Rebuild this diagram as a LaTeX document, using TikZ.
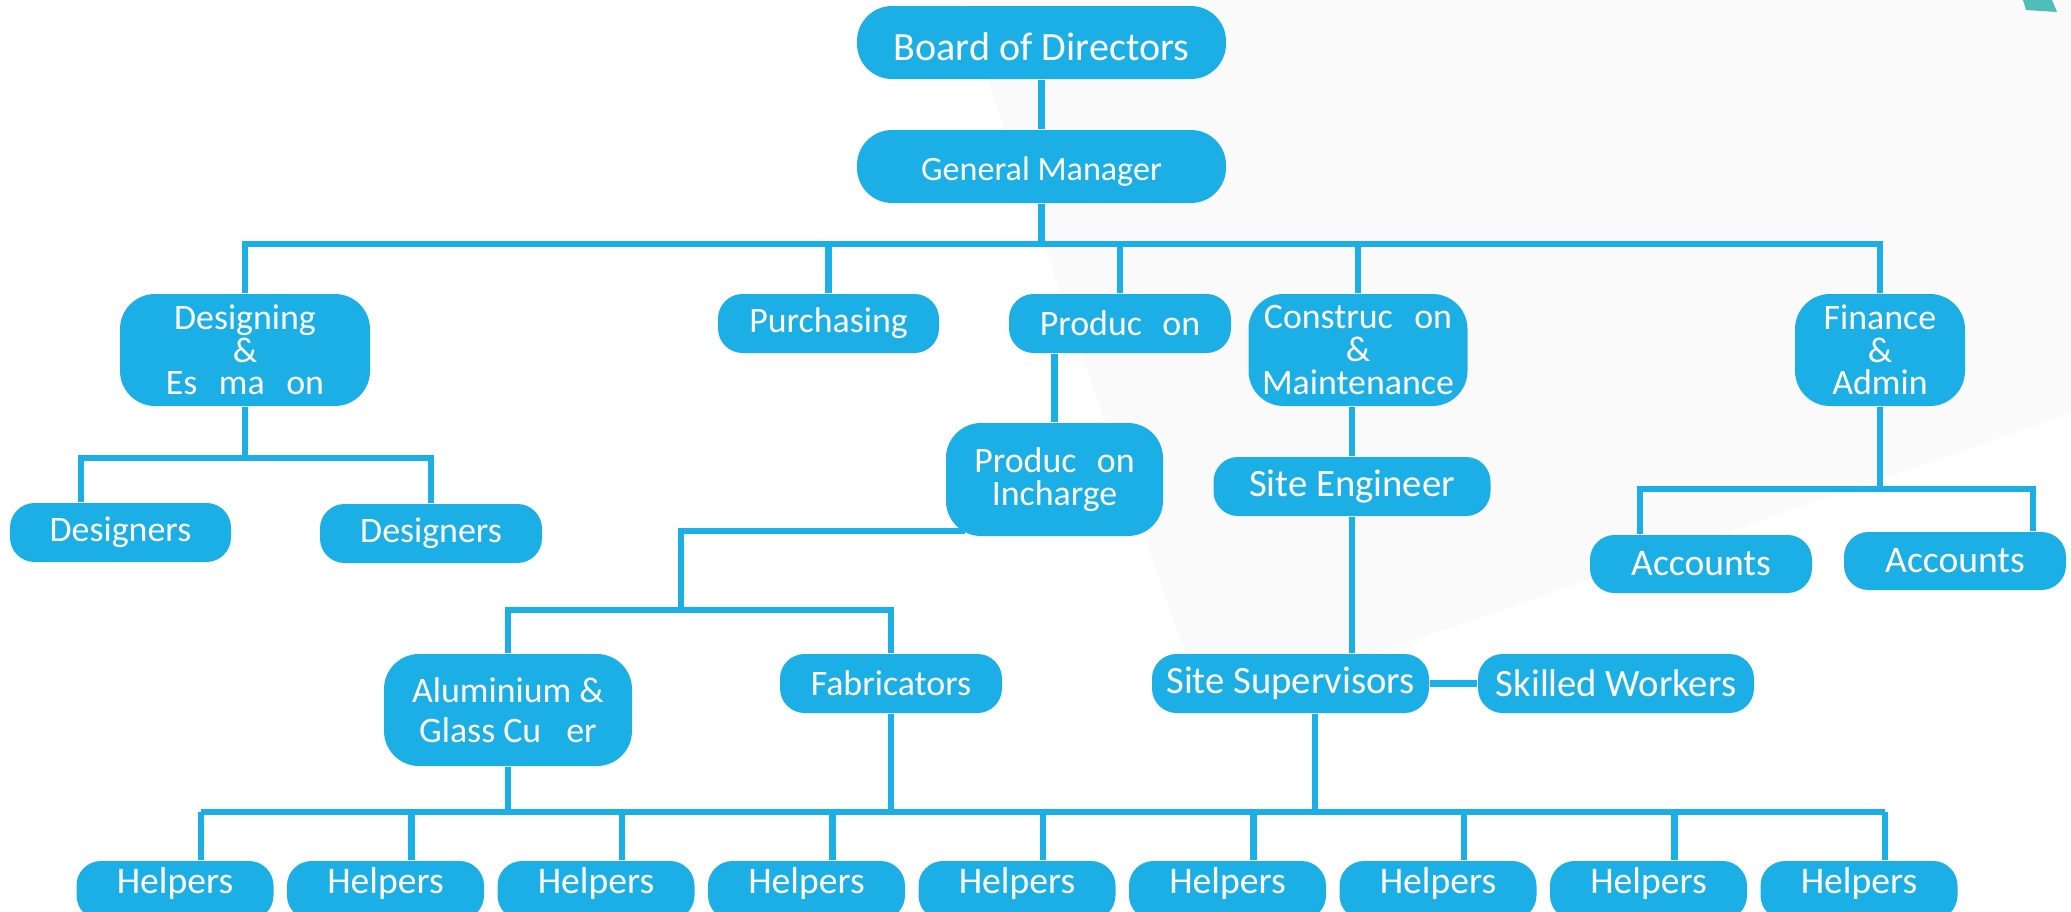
\documentclass[tikz,border=0pt]{standalone}
\usepackage{fontspec}
\setmainfont{Carlito}
\definecolor{cblue}{HTML}{1BAFE5}
\definecolor{palegray}{HTML}{FAFAFA}
\definecolor{tealbit}{HTML}{4DBEB8}
\begin{document}
\begin{tikzpicture}[
  dept/.style={fill=cblue, text=white, rounded corners=7pt, inner sep=0pt, align=center,
    minimum width=2.22cm, minimum height=0.59cm, font=\fontsize{10.2}{9.3}\selectfont},
  tall/.style={dept, minimum height=1.12cm, rounded corners=10pt},
  helper/.style={dept, minimum width=1.97cm, text depth=0.2cm, font=\fontsize{10.7}{12}\selectfont},
  conn/.style={draw=cblue, line width=1.8pt}]
\useasboundingbox (0,0) rectangle (20.71,-9.12);
\fill[white] (0,0) rectangle (20.71,-9.12);
\fill[palegray] (9.60,0) -- (20.71,0) -- (20.71,-4.13) -- (12.05,-7.12) -- cycle;
\fill[tealbit] (20.23,0) -- (20.52,0) -- (20.57,-0.12) -- (20.26,-0.10) -- cycle;
% top levels
\node[dept, minimum width=3.69cm, minimum height=0.73cm, rounded corners=10pt, text height=0.36cm, font=\fontsize{11.4}{13}\selectfont] (1) at (10.415,-0.425) {Board of Directors};
\node[dept, minimum width=3.69cm, minimum height=0.73cm, rounded corners=10pt, text height=0.33cm, font=\fontsize{9.7}{11}\selectfont] (2) at (10.415,-1.665) {General Manager};
% departments
\node[tall, minimum width=2.50cm] (3) at (2.45,-3.50) {Designing\\\&\\Es\hspace{0.6em}ma\hspace{0.6em}on};
\node[dept, minimum width=2.21cm] (4) at (8.285,-3.235) {Purchasing};
\node[dept] (5) at (11.20,-3.235) {Produc\hspace{0.57em}on};
\node[tall, minimum width=2.19cm] (6) at (13.58,-3.50) {Construc\hspace{0.6em}on\\\&\\Maintenance};
\node[tall, minimum width=1.70cm] (7) at (18.80,-3.50) {Finance\\\&\\Admin};
\node[dept, minimum width=2.21cm] (8) at (1.205,-5.325) {Designers};
\node[dept] (9) at (4.31,-5.335) {Designers};
\node[tall, minimum width=2.17cm, minimum height=1.13cm] (10) at (10.545,-4.795) {Produc\hspace{0.57em}on\\Incharge};
\node[dept, minimum width=2.77cm, font=\fontsize{11}{12}\selectfont] (11) at (13.52,-4.865) {Site Engineer};
\node[dept, minimum height=0.58cm, font=\fontsize{10.7}{12}\selectfont] (12) at (17.01,-5.64) {Accounts};
\node[dept, minimum height=0.58cm, font=\fontsize{10.7}{12}\selectfont] (13) at (19.55,-5.61) {Accounts};
\node[tall, minimum width=2.48cm, font=\fontsize{10.2}{11.4}\selectfont] (14) at (5.08,-7.10) {Aluminium \&\\Glass Cu\hspace{0.7em}er};
\node[dept] (15) at (8.91,-6.835) {Fabricators};
\node[dept, minimum width=2.77cm, font=\fontsize{11}{12}\selectfont] (16) at (12.905,-6.835) {Site Supervisors};
\node[dept, minimum width=2.76cm, font=\fontsize{11}{12}\selectfont] (17) at (16.16,-6.835) {Skilled Workers};
% helpers
\node[helper] (18) at (1.750,-8.905) {Helpers};
\node[helper] (19) at (3.855,-8.905) {Helpers};
\node[helper] (20) at (5.960,-8.905) {Helpers};
\node[helper] (21) at (8.065,-8.905) {Helpers};
\node[helper] (22) at (10.170,-8.905) {Helpers};
\node[helper] (23) at (12.275,-8.905) {Helpers};
\node[helper] (24) at (14.380,-8.905) {Helpers};
\node[helper] (25) at (16.485,-8.905) {Helpers};
\node[helper] (26) at (18.590,-8.905) {Helpers};
% connectors
\path[conn] (1) -- (2);
\path[conn] (2.south) -- ++(0,-0.40) -| (3.north);
\path[conn] (2.south) -- ++(0,-0.40) -| (4.north);
\path[conn] (2.south) -- ++(0,-0.40) -| (5.north);
\path[conn] (2.south) -- ++(0,-0.40) -| (6.north);
\path[conn] (2.south) -- ++(0,-0.40) -| (7.north);
\path[conn] (3.south) -- ++(0,-0.51) -| ([xshift=-0.395cm]8.north);
\path[conn] (3.south) -- ++(0,-0.51) -| (9.north);
\path[conn] (10) -- (10 |- 5.south);
\path[conn] ([xshift=0.2cm,yshift=0.06cm]10.south west) -| ++(-2.84,-0.79) coordinate (pb);
\path[conn] (pb) -| (14.north);
\path[conn] (pb) -| (15.north);
\path[conn] (11) -- (11 |- 6.south);
\path[conn] (11) -- (11 |- 16.north);
\path[conn] (16) -- (17);
\path[conn] (7.south) -- ++(0,-0.82) -| ([xshift=-0.61cm]12.north);
\path[conn] (7.south) -- ++(0,-0.82) -| ([xshift=0.78cm]13.north);
\path[conn] (14.south) -- ++(0,-0.47);
\path[conn] (15.south) -- ++(0,-1.00);
\path[conn] ([xshift=0.245cm]16.south) -- ++(0,-1.00);
\path[conn] ([xshift=0.26cm,yshift=0.48cm]18.north) -- ([xshift=0.26cm,yshift=0.48cm]26.north);
\path[conn] ([xshift=0.26cm]18.north) -- ++(0,0.48);
\path[conn] ([xshift=0.26cm]19.north) -- ++(0,0.48);
\path[conn] ([xshift=0.26cm]20.north) -- ++(0,0.48);
\path[conn] ([xshift=0.26cm]21.north) -- ++(0,0.48);
\path[conn] ([xshift=0.26cm]22.north) -- ++(0,0.48);
\path[conn] ([xshift=0.26cm]23.north) -- ++(0,0.48);
\path[conn] ([xshift=0.26cm]24.north) -- ++(0,0.48);
\path[conn] ([xshift=0.26cm]25.north) -- ++(0,0.48);
\path[conn] ([xshift=0.26cm]26.north) -- ++(0,0.48);
\end{tikzpicture}
\end{document}
